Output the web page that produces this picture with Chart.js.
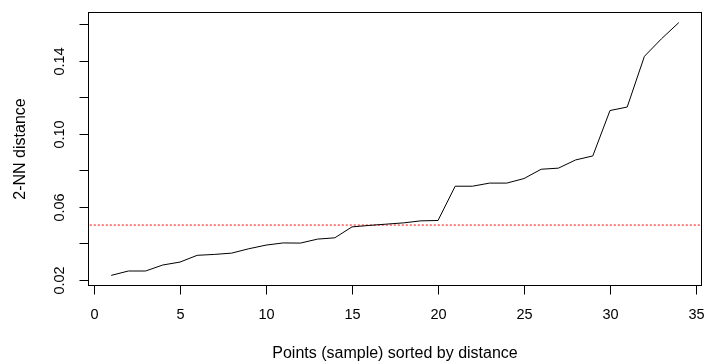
<!DOCTYPE html>
<html>
<head>
<meta charset="utf-8">
<script src="https://cdn.jsdelivr.net/npm/chart.js@4/dist/chart.umd.min.js"></script>
<style>
  html, body { margin: 0; padding: 0; background: #ffffff; }
  #wrap { width: 704px; height: 363px; }
</style>
</head>
<body>
<div id="wrap"><canvas id="knnChart" width="704" height="363"></canvas></div>
<script>

// =========================
// DATA
// =========================

const pointIndex = [
  1, 2, 3, 4, 5, 6, 7, 8, 9, 10, 11, 12, 13, 14, 15, 16, 17,
  18, 19, 20, 21, 22, 23, 24, 25, 26, 27, 28, 29, 30, 31, 32, 33, 34
];

const knnDistance = [
  0.0224, 0.0248, 0.0248, 0.0281, 0.0297, 0.0334, 0.0339, 0.0346,
  0.0370, 0.0390, 0.0402, 0.0401, 0.0423, 0.0430, 0.0490, 0.0498,
  0.0505, 0.0512, 0.0523, 0.0525, 0.0713, 0.0713, 0.0730, 0.0730,
  0.0755, 0.0806, 0.0812, 0.0857, 0.0879, 0.1128, 0.1147, 0.1425,
  0.1522, 0.1610
];

const epsValue = 0.05;

const xTicks = [0, 5, 10, 15, 20, 25, 30, 35];
const yTicks = [0.02, 0.04, 0.06, 0.08, 0.10, 0.12, 0.14, 0.16];
const yTickLabels = ['0.02', '', '0.06', '', '0.10', '', '0.14', ''];

const xTitle = 'Points (sample) sorted by distance';
const yTitle = '2-NN distance';


// =========================
// AXIS RANGES (R style, 4% extension)
// =========================

const xLo = Math.min(...pointIndex);
const xHi = Math.max(...pointIndex);
const yLo = Math.min(...knnDistance);
const yHi = Math.max(...knnDistance);

const xPad = (xHi - xLo) * 0.04;
const yPad = (yHi - yLo) * 0.04;


// =========================
// AXES + BOX PLUGIN
// =========================

const TICK_FONT = '14.5px "Liberation Sans", Arial, sans-serif';
const TITLE_FONT = '16px "Liberation Sans", Arial, sans-serif';

const rAxes = {

  id: 'rAxes',

  afterDraw(chart) {

    const ctx = chart.ctx;
    const area = chart.chartArea;
    const xs = chart.scales.x;
    const ys = chart.scales.y;

    ctx.save();

    // box
    ctx.strokeStyle = '#000000';
    ctx.lineWidth = 1;
    ctx.strokeRect(
      area.left,
      area.top,
      area.right - area.left,
      area.bottom - area.top
    );

    ctx.font = TICK_FONT;
    ctx.fillStyle = '#000000';

    // x ticks
    xTicks.forEach(v => {

      const px = Math.round(xs.getPixelForValue(v)) + 0.5;

      ctx.beginPath();
      ctx.moveTo(px, area.bottom);
      ctx.lineTo(px, area.bottom + 9);
      ctx.stroke();

      ctx.textAlign = 'center';
      ctx.textBaseline = 'middle';
      ctx.fillText(String(v), px, 315);
    });

    // y ticks
    yTicks.forEach((v, i) => {

      const py = Math.round(ys.getPixelForValue(v)) + 0.5;

      ctx.beginPath();
      ctx.moveTo(area.left, py);
      ctx.lineTo(area.left - 9, py);
      ctx.stroke();

      if (yTickLabels[i]) {
        ctx.save();
        ctx.translate(60, py);
        ctx.rotate(-Math.PI / 2);
        ctx.textAlign = 'center';
        ctx.textBaseline = 'middle';
        ctx.fillText(yTickLabels[i], 0, 0);
        ctx.restore();
      }
    });

    // titles
    ctx.font = TITLE_FONT;
    ctx.textAlign = 'center';
    ctx.textBaseline = 'middle';
    ctx.fillText(xTitle, (area.left + area.right) / 2, 354);

    ctx.save();
    ctx.translate(21, (area.top + area.bottom) / 2);
    ctx.rotate(-Math.PI / 2);
    ctx.fillText(yTitle, 0, 0);
    ctx.restore();

    ctx.restore();
  }
};


// =========================
// CHART
// =========================

const ctx = document.getElementById('knnChart');

new Chart(ctx, {

  type: 'line',

  data: {

    datasets: [
      {
        label: 'kNN distance',
        data: pointIndex.map((x, i) => ({ x: x, y: knnDistance[i] })),
        borderColor: '#000000',
        borderWidth: 1,
        pointRadius: 0,
        tension: 0,
        fill: false
      },
      {
        label: 'eps',
        data: [
          { x: xLo - 2 * xPad, y: epsValue },
          { x: xHi + 2 * xPad, y: epsValue }
        ],
        borderColor: '#ff0000',
        borderWidth: 1,
        borderDash: [2, 2],
        pointRadius: 0,
        fill: false
      }
    ]
  },

  options: {

    responsive: false,
    animation: false,
    events: [],

    layout: {
      padding: { left: 88.5, right: 2.5, top: 12.5, bottom: 77.5 }
    },

    plugins: {
      legend: { display: false },
      tooltip: { enabled: false }
    },

    scales: {
      x: {
        type: 'linear',
        display: false,
        min: xLo - xPad,
        max: xHi + xPad
      },
      y: {
        type: 'linear',
        display: false,
        min: yLo - yPad,
        max: yHi + yPad
      }
    }
  },

  plugins: [rAxes]
});

</script>
</body>
</html>
